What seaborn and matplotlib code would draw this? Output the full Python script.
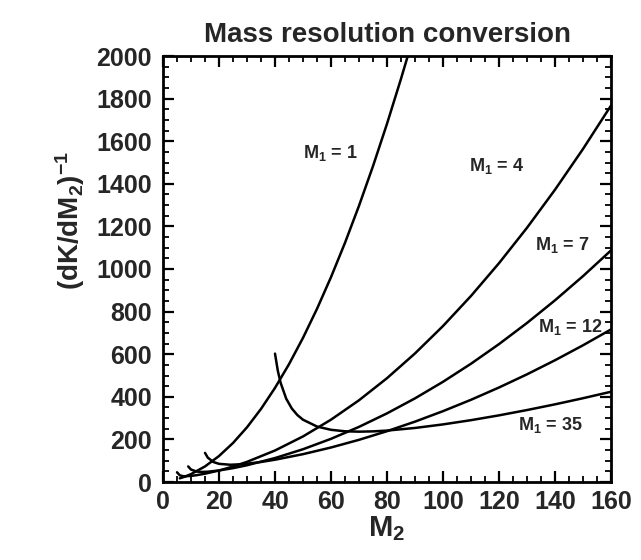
import matplotlib
matplotlib.use("Agg")
import matplotlib.pyplot as plt
import pandas as pd
import seaborn as sns
from matplotlib.ticker import MultipleLocator

# Inverse kinematic-factor slope (dK/dM2)^-1 versus target mass M2,
# one curve per projectile mass M1.
m2_m1_1 = [6, 8, 10, 15, 20, 25, 30, 35, 40, 45, 50, 55, 60, 65, 70, 75, 80, 85, 88]
y_m1_1 = [17.2, 26.0, 37.0, 73.1, 121.9, 183.1, 256.8, 343.1, 441.8, 553.0, 676.8,
          813.0, 961.8, 1123.0, 1296.8, 1483.0, 1681.8, 1893.0, 2025.8]

m2_m1_4 = [5, 6, 7, 8, 10, 12, 15, 20, 25, 30, 40, 50, 60, 70, 80, 90, 100, 110,
           120, 130, 140, 150, 160]
y_m1_4 = [45.6, 31.3, 27.7, 27.0, 28.6, 32.0, 39.0, 54.0, 72.6, 94.5, 147.9, 213.9,
          292.6, 383.7, 487.4, 603.6, 732.3, 873.5, 1027.3, 1193.5, 1372.2, 1563.5, 1767.2]

m2_m1_7 = [9, 10, 12, 14, 16, 20, 25, 30, 40, 50, 60, 70, 80, 90, 100, 110, 120,
           130, 140, 150, 160]
y_m1_7 = [73.1, 58.5, 49.0, 47.3, 48.3, 54.1, 65.0, 78.7, 112.4, 153.8, 202.7, 258.8,
          322.2, 392.7, 470.4, 555.3, 647.4, 746.6, 853.0, 966.5, 1087.2]

m2_m1_12 = [15, 16, 18, 20, 24, 28, 30, 35, 40, 50, 60, 70, 80, 90, 100, 110, 120,
            130, 140, 150, 160]
y_m1_12 = [136.7, 114.3, 93.8, 85.3, 81.0, 83.3, 85.8, 94.0, 104.6, 130.7, 162.0,
           198.0, 238.6, 283.4, 332.6, 386.0, 443.7, 505.5, 571.6, 641.8, 716.3]

m2_m1_35 = [40, 41, 42, 44, 46, 48, 50, 55, 60, 65, 70, 75, 80, 90, 100, 110, 120,
            130, 140, 150, 160]
y_m1_35 = [602.7, 522.6, 465.9, 391.3, 345.1, 314.2, 292.4, 260.4, 245.0, 238.1,
           236.3, 237.7, 241.4, 253.7, 270.4, 290.3, 312.9, 337.8, 364.6, 393.3, 423.7]

m1_labels = ["1", "4", "7", "12", "35"]
x_ticks = [0, 20, 40, 60, 80, 100, 120, 140, 160]
y_ticks = [0, 200, 400, 600, 800, 1000, 1200, 1400, 1600, 1800, 2000]

series = [m2_m1_1, m2_m1_4, m2_m1_7, m2_m1_12, m2_m1_35]
values = [y_m1_1, y_m1_4, y_m1_7, y_m1_12, y_m1_35]
frames = []
for lab, xs, ys in zip(m1_labels, series, values):
    frames.append(pd.DataFrame({"M2": xs, "inv": ys, "M1": lab}))
df = pd.concat(frames, ignore_index=True)

sns.set_style("white")
plt.rcParams["font.family"] = ["Liberation Sans", "DejaVu Sans"]
plt.rcParams["font.weight"] = "bold"
plt.rcParams["mathtext.default"] = "regular"

fig = plt.figure(figsize=(6.41, 5.6), dpi=100)
ax = fig.add_axes([163 / 641, 1 - 482 / 560, 448 / 641, 426 / 560])

sns.lineplot(data=df, x="M2", y="inv", hue="M1", units="M1", estimator=None,
             palette={k: "black" for k in m1_labels}, linewidth=1.8,
             legend=False, ax=ax)

ax.set_xlim(0, 160)
ax.set_ylim(0, 2000)
ax.set_xticks(x_ticks)
ax.set_yticks(y_ticks)
ax.xaxis.set_minor_locator(MultipleLocator(5))
ax.yaxis.set_minor_locator(MultipleLocator(50))
ax.tick_params(which="both", direction="in", top=True, right=True,
               bottom=True, left=True, color="black")
ax.tick_params(which="major", length=8, width=1.6, labelsize=18)
ax.tick_params(axis="y", which="major", pad=8)
ax.tick_params(axis="x", which="major", pad=6)
ax.tick_params(which="minor", length=4.5, width=1.3)
for lbl in ax.get_xticklabels() + ax.get_yticklabels():
    lbl.set_fontweight("bold")
for sp in ax.spines.values():
    sp.set_linewidth(2)
    sp.set_color("black")

ax.set_xlabel("M$_2$", fontsize=21, fontweight="bold", labelpad=0)
ax.set_ylabel("(dK/dM$_2$)$^{-1}$", fontsize=20, fontweight="bold")
ax.yaxis.set_label_coords(-0.17, 0.615)
ax.set_title("Mass resolution conversion", fontsize=20, fontweight="bold", pad=10)

# curve labels
lab_kw = dict(fontsize=13, fontweight="bold", va="center")
ax.text(50, 1545, "M$_1$ = 1", **lab_kw)
ax.text(109.3, 1484, "M$_1$ = 4", **lab_kw)
ax.text(132.9, 1113, "M$_1$ = 7", **lab_kw)
ax.text(134, 728, "M$_1$ = 12", **lab_kw)
ax.text(126.8, 268, "M$_1$ = 35", **lab_kw)

fig.savefig("out.png", dpi=100, facecolor="white")
